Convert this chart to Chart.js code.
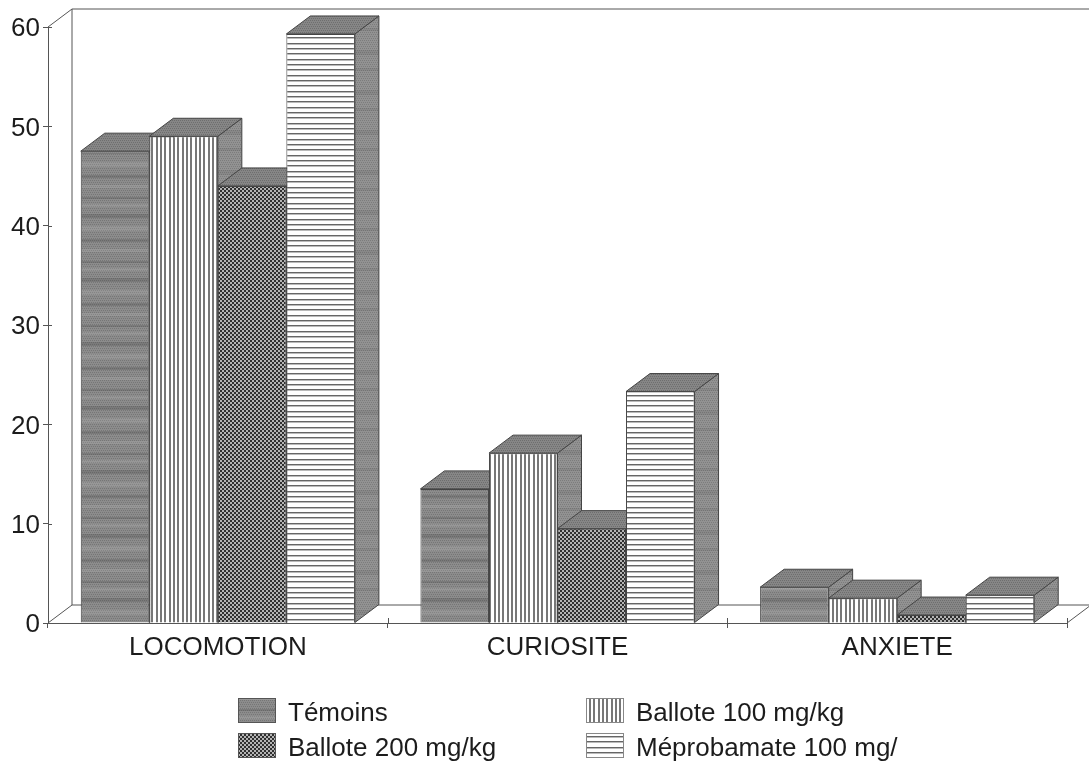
<!DOCTYPE html>
<html>
<head>
<meta charset="utf-8">
<style>
  html, body { margin: 0; padding: 0; background: #fff; }
  canvas { display: block; filter: blur(0.5px); }
</style>
<script src="https://cdn.jsdelivr.net/npm/chart.js@4/dist/chart.umd.min.js"></script>
</head>
<body>
<canvas id="chart" width="1089" height="769"></canvas>
<script>
const categories = ['LOCOMOTION', 'CURIOSITE', 'ANXIETE'];
const seriesNames = ['Témoins', 'Ballote 100 mg/kg', 'Ballote 200 mg/kg', 'Méprobamate 100 mg/'];
const temoins = [47.5, 13.5, 3.6];
const ballote100 = [49, 17.1, 2.5];
const ballote200 = [44, 9.5, 0.8];
const meprobamate = [59.3, 23.3, 2.8];
const yTicks = [0, 10, 20, 30, 40, 50, 60];

// depth of the fake 3d, in pixels
const depthX = 24;
const depthY = 18;
const lineColor = '#555';
const edgeColor = '#444';
const textColor = '#1c1c1c';
const fontFamily = '"Liberation Sans", Arial, sans-serif';

function makePattern(w, h, paint) {
  const c = document.createElement('canvas');
  c.width = w;
  c.height = h;
  const g = c.getContext('2d');
  paint(g);
  return g.createPattern(c, 'repeat');
}

// fine grey screen used by the solid faces
function greyScreen(g, w, h, base, dark) {
  g.fillStyle = base;
  g.fillRect(0, 0, w, h);
  g.fillStyle = dark;
  for (let y = 0; y < h; y += 2) {
    for (let x = (y / 2) % 2; x < w; x += 2) g.fillRect(x, y, 1, 1);
  }
}

const temoinsFill = makePattern(16, 64, g => {
  greyScreen(g, 16, 64, '#8c8c8c', '#767676');
  g.fillStyle = 'rgba(50,50,50,0.2)';
  g.fillRect(0, 5, 16, 2);
  g.fillRect(0, 22, 16, 4);
  g.fillRect(0, 47, 16, 3);
  g.fillStyle = 'rgba(255,255,255,0.1)';
  g.fillRect(0, 12, 16, 3);
  g.fillRect(0, 34, 16, 5);
  g.fillRect(0, 57, 16, 3);
});
const ballote100Fill = makePattern(13, 4, g => {
  g.fillStyle = '#fff';
  g.fillRect(0, 0, 13, 4);
  g.fillStyle = '#777';
  [0, 4, 8].forEach(x => g.fillRect(x, 0, 2, 4));
});
const ballote200Fill = makePattern(4, 4, g => {
  g.fillStyle = '#303030';
  g.fillRect(0, 0, 4, 4);
  g.fillStyle = '#b4b4b4';
  g.fillRect(0, 0, 2, 2);
  g.fillRect(2, 2, 2, 2);
});
const meprobamateFill = makePattern(4, 16, g => {
  g.fillStyle = '#fff';
  g.fillRect(0, 0, 4, 16);
  g.fillStyle = '#666';
  [0, 5, 11].forEach(y => g.fillRect(0, y, 4, 1));
  g.fillStyle = '#bbb';
  [1, 6, 12].forEach(y => g.fillRect(0, y, 4, 1));
});
const sideFill = makePattern(8, 40, g => {
  greyScreen(g, 8, 40, '#929292', '#7c7c7c');
  g.fillStyle = 'rgba(50,50,50,0.1)';
  g.fillRect(0, 10, 8, 5);
  g.fillRect(0, 28, 8, 3);
});
const topFill = makePattern(8, 8, g => greyScreen(g, 8, 8, '#868686', '#6e6e6e'));

function face(ctx, points, fill) {
  ctx.beginPath();
  points.forEach((p, i) => (i ? ctx.lineTo(p[0], p[1]) : ctx.moveTo(p[0], p[1])));
  ctx.closePath();
  ctx.fillStyle = fill;
  ctx.fill();
  ctx.strokeStyle = edgeColor;
  ctx.lineWidth = 1;
  ctx.stroke();
}

// back wall, floor and the diagonals joining them to the axes
const wallPlugin = {
  id: 'wall',
  beforeDatasetsDraw(chart) {
    const { ctx, chartArea: a, scales } = chart;
    ctx.save();
    ctx.strokeStyle = lineColor;
    ctx.lineWidth = 1;
    ctx.beginPath();
    ctx.moveTo(a.left, a.top);
    ctx.lineTo(a.left + depthX, a.top - depthY);
    ctx.lineTo(a.right + depthX, a.top - depthY);
    ctx.moveTo(a.left + depthX, a.top - depthY);
    ctx.lineTo(a.left + depthX, a.bottom - depthY);
    ctx.lineTo(a.right + depthX, a.bottom - depthY);
    ctx.lineTo(a.right, a.bottom);
    ctx.moveTo(a.left, a.bottom);
    ctx.lineTo(a.left + depthX, a.bottom - depthY);
    // ticks cross the axis lines
    const step = scales.x.width / categories.length;
    categories.forEach((c, i) => {
      const x = Math.round(scales.x.getPixelForTick(i) + step / 2) + 0.5;
      ctx.moveTo(x, a.bottom - 5);
      ctx.lineTo(x, a.bottom);
    });
    yTicks.forEach(v => {
      const y = Math.round(scales.y.getPixelForValue(v)) + 0.5;
      ctx.moveTo(a.left, y);
      ctx.lineTo(a.left + 4, y);
    });
    ctx.stroke();
    ctx.restore();
  }
};

// paints the datasets left to right, each with its top and side first.
// Chart.js would go right to left, and the left bars have to stay behind.
const depthPlugin = {
  id: 'depth',
  beforeDatasetsDraw(chart) {
    const ctx = chart.ctx;
    chart.getSortedVisibleDatasetMetas().forEach(meta => {
      ctx.save();
      meta.data.forEach(bar => {
        const l = bar.x - bar.width / 2;
        const r = bar.x + bar.width / 2;
        const t = bar.y;
        const b = bar.base;
        face(ctx, [[r, t], [r + depthX, t - depthY], [r + depthX, b - depthY], [r, b]], sideFill);
        face(ctx, [[l, t], [l + depthX, t - depthY], [r + depthX, t - depthY], [r, t]], topFill);
      });
      ctx.restore();
      meta.controller.draw();
    });
    return false;
  }
};

// two column legend, the built-in one cannot line its columns up
const legendPlugin = {
  id: 'twoColLegend',
  afterDraw(chart) {
    const ctx = chart.ctx;
    const slots = [[238, 698], [586, 698], [238, 733], [586, 733]];
    ctx.save();
    ctx.font = '26px ' + fontFamily;
    ctx.textBaseline = 'middle';
    chart.data.datasets.forEach((ds, i) => {
      const [x, y] = slots[i];
      ctx.fillStyle = ds.backgroundColor;
      ctx.fillRect(x, y, 38, 25);
      ctx.strokeStyle = i === 1 || i === 3 ? '#888' : '#555';
      ctx.lineWidth = 1;
      ctx.strokeRect(x + 0.5, y + 0.5, 37, 24);
      ctx.fillStyle = textColor;
      ctx.fillText(ds.label, x + 50, y + 16);
    });
    ctx.restore();
  }
};

function dataset(i, values, fill) {
  return {
    label: seriesNames[i],
    data: values,
    backgroundColor: fill,
    borderColor: edgeColor,
    borderWidth: 1
  };
}

new Chart(document.getElementById('chart'), {
  type: 'bar',
  data: {
    labels: categories,
    datasets: [
      dataset(0, temoins, temoinsFill),
      dataset(1, ballote100, ballote100Fill),
      dataset(2, ballote200, ballote200Fill),
      dataset(3, meprobamate, meprobamateFill)
    ]
  },
  plugins: [wallPlugin, depthPlugin, legendPlugin],
  options: {
    responsive: false,
    animation: false,
    layout: { padding: { top: 27, right: 22, left: 0, bottom: 0 } },
    datasets: { bar: { categoryPercentage: 0.807, barPercentage: 1 } },
    plugins: { legend: { display: false }, tooltip: { enabled: false } },
    scales: {
      x: {
        afterFit(scale) { scale.height = 146; },
        border: { color: lineColor },
        grid: { drawOnChartArea: false, color: lineColor, tickLength: 5 },
        ticks: { color: textColor, font: { family: fontFamily, size: 26 }, padding: 4, maxRotation: 0 }
      },
      y: {
        min: 0,
        max: 60,
        afterFit(scale) { scale.width = 48; },
        afterBuildTicks(scale) { scale.ticks = yTicks.map(v => ({ value: v })); },
        border: { color: lineColor },
        grid: { drawOnChartArea: false, color: lineColor, tickLength: 5 },
        ticks: { color: textColor, font: { family: fontFamily, size: 26 }, padding: 3, labelOffset: 2 }
      }
    }
  }
});
</script>
</body>
</html>
